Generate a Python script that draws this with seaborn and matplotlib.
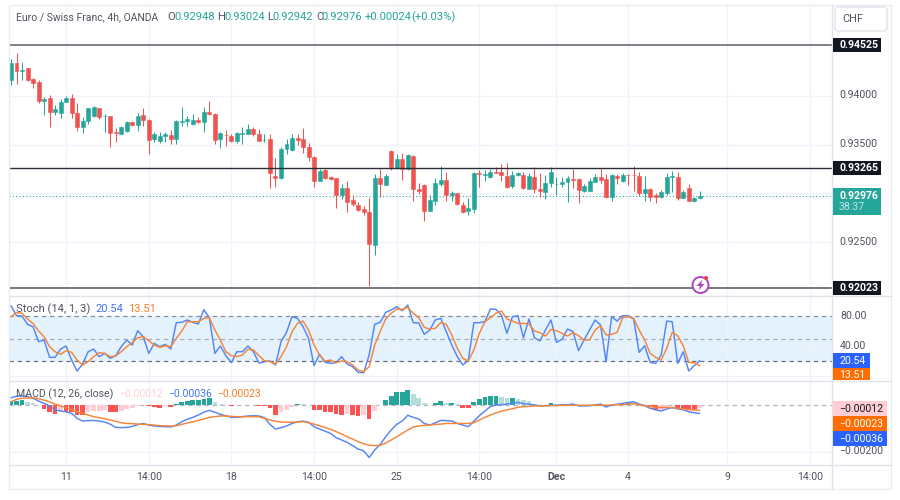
import numpy as np
import pandas as pd
import seaborn as sns
import matplotlib.pyplot as plt
from matplotlib.patches import Rectangle, FancyBboxPatch, Circle, Polygon

# candles, in 1e-5 of a franc
opens = [94166,94337,94258,94286,94173,94145,93950,93977,93840,93830,
         93939,93977,93826,93679,93741,93799,93874,93795,93792,93627,
         93614,93641,93730,93699,93802,93758,93555,93541,93590,93603,
         93562,93734,93744,93717,93754,93734,93837,93819,93555,93600,
         93593,93541,93610,93614,93658,93610,93545,93559,93178,93160,
         93456,93445,93569,93558,93473,93377,93130,93240,93171,93154,
         92982,93054,92931,92876,92838,92811,92471,93154,93085,93438,
         93263,93349,93246,93387,93044,93089,92821,92924,93095,93137,
         92979,93000,92883,92814,92842,93209,93192,93164,93219,93216,
         93181,93075,93185,93188,93047,93171,93044,93013,93102,93092,
         93095,93113,93150,93143,93027,93027,93116,93167,93147,92965,
         93177,93126,93193,93191,93181,93003,93044,92982,92958,92999,
         93168,93171,92955,93054,92920,92948]
highs = [94382,94440,94351,94290,94190,94166,93987,94011,93909,93967,
         94005,94018,93926,93782,93881,93898,93881,93816,93795,93675,
         93692,93744,93747,93823,93874,93761,93627,93634,93634,93651,
         93754,93891,93795,93813,93789,93885,93946,93823,93631,93648,
         93607,93631,93686,93710,93686,93665,93607,93610,93360,93476,
         93558,93607,93607,93668,93514,93384,93246,93246,93178,93154,
         93092,93126,92979,92910,92869,92948,93195,93246,93195,93445,
         93404,93411,93401,93390,93102,93095,92979,93154,93281,93219,
         93027,93000,92907,92955,93222,93240,93240,93250,93274,93298,
         93308,93233,93222,93219,93205,93267,93205,93188,93267,93164,
         93164,93178,93250,93154,93095,93153,93195,93249,93198,93195,
         93198,93205,93198,93280,93222,93177,93057,93006,93033,93205,
         93232,93222,93033,93095,92961,93027]
lows = [94114,94121,94166,94160,94087,93933,93806,93686,93806,93771,
        93939,93771,93644,93624,93713,93789,93768,93627,93480,93531,
        93607,93634,93692,93644,93696,93404,93524,93521,93531,93507,
        93507,93692,93692,93706,93720,93634,93806,93507,93470,93487,
        93531,93514,93507,93610,93593,93535,93528,93054,93068,93147,
        93401,93438,93497,93411,93336,93068,93126,93150,93137,92852,
        92938,92804,92869,92821,92776,92049,92365,92965,93082,93240,
        93246,93137,93240,92921,92993,92718,92814,92876,93078,92921,
        92921,92879,92800,92776,92797,93068,93126,93157,93212,93126,
        93054,93054,93181,93047,93041,93006,92965,92941,93068,92979,
        93068,92907,93051,92896,93016,93023,93112,93102,92948,92924,
        93095,93119,93085,93027,92972,92924,92924,92903,92955,92982,
        93016,92931,92948,92920,92913,92944]
closes = [94337,94258,94265,94166,94131,93950,93970,93840,93864,93943,
          93981,93823,93679,93747,93874,93885,93782,93799,93624,93620,
          93682,93730,93699,93799,93751,93552,93614,93593,93610,93562,
          93741,93747,93764,93754,93734,93837,93813,93552,93620,93596,
          93541,93620,93617,93658,93607,93541,93552,93209,93157,93456,
          93504,93565,93548,93473,93377,93130,93233,93161,93147,92982,
          93051,92914,92886,92828,92804,92481,93154,93095,93181,93267,
          93349,93246,93390,93041,93020,92814,92931,93102,93137,92979,
          93000,92886,92807,92845,93205,93195,93198,93219,93212,93188,
          93061,93188,93209,93051,93178,93041,93020,93106,93216,93099,
          93116,93154,93140,93030,93075,93126,93171,93136,92965,93188,
          93153,93188,93186,93184,93003,93044,92961,92958,93009,93171,
          93174,92948,93016,92924,92955,92976]

# stochastic
stoch_k = [93.8,80.4,80.0,68.9,65.8,45.8,48.0,24.9,24.9,36.0,40.0,21.3,6.7,16.0,32.4,36.0,25.8,30.2,23.6,27.1,
           39.1,48.0,41.3,60.4,52.4,30.2,43.6,39.1,42.2,36.0,71.1,71.6,74.7,71.6,69.3,88.4,77.8,30.2,40.0,27.1,
           17.8,32.4,32.4,40.0,32.4,17.3,19.1,20.0,14.7,45.8,58.2,79.1,76.9,65.8,50.2,13.8,28.9,18.2,16.9,17.8,
           25.8,16.0,12.4,4.9,4.4,28.0,68.9,71.6,84.9,88.0,92.4,87.1,94.7,71.1,70.7,55.6,61.3,74.7,76.9,59.1,
           41.3,25.8,14.7,21.3,71.1,71.1,72.4,89.3,88.9,81.3,56.9,79.1,80.4,51.1,76.0,51.1,46.7,61.3,74.7,44.9,
           48.9,62.7,59.1,33.8,48.0,61.3,74.7,68.0,19.1,79.1,73.3,80.4,80.4,76.0,31.6,40.4,18.2,16.9,28.0,73.3,
           72.4,16.9,32.4,6.7,13.8,20.54]
stoch_d = [79.1,84.4,83.6,76.0,70.2,60.0,52.4,39.1,32.4,28.9,33.8,31.6,21.3,14.7,19.1,25.8,31.1,30.2,25.8,26.7,
           32.4,39.1,44.4,51.1,52.4,47.1,41.3,38.2,40.4,39.1,50.2,60.0,72.4,72.4,72.4,76.9,77.8,61.3,48.0,32.4,
           27.1,25.8,28.0,35.6,34.7,27.1,20.4,19.1,16.0,25.8,39.1,59.1,70.2,73.3,61.3,41.3,28.0,20.0,21.3,17.8,
           20.0,19.1,14.7,8.0,5.8,12.4,41.3,59.1,76.0,83.6,89.3,88.9,91.6,83.6,77.8,64.9,62.7,63.6,71.1,68.9,
           54.7,36.9,23.6,20.0,34.7,56.9,72.4,77.8,83.6,86.7,76.0,73.3,70.2,70.2,69.3,60.0,57.8,53.3,62.2,60.4,
           56.9,53.3,57.8,53.8,48.0,48.0,61.3,67.1,54.7,55.6,58.2,77.8,79.1,76.9,61.3,48.0,30.2,24.9,21.3,36.9,
           58.2,53.8,40.4,18.2,17.8,13.51]

# macd, in 1e-5
macd_line = [31,37,40,36,29,17,7,-4,-21,-26,-29,-36,-57,-69,-67,-66,-69,-73,-82,-96,
             -97,-96,-92,-84,-79,-86,-90,-92,-93,-94,-86,-72,-61,-53,-43,-31,-23,-31,-40,-46,
             -53,-53,-50,-47,-46,-47,-54,-83,-103,-97,-90,-79,-72,-69,-74,-93,-103,-112,-122,-140,
             -150,-160,-174,-189,-196,-225,-193,-169,-136,-107,-83,-69,-44,-53,-60,-79,-86,-76,-66,-67,
             -69,-79,-86,-93,-69,-46,-26,-7,0,1,4,7,11,6,3,0,-4,-3,-1,-1,
             0,1,4,-4,-4,-3,0,4,-9,0,3,7,11,14,4,-3,-14,-21,-26,-17,
             -11,-17,-20,-29,-33,-36]
signal_line = [14,24,29,30,31,27,21,13,4,-4,-11,-20,-29,-36,-43,-50,-54,-59,-64,-70,
               -76,-79,-80,-82,-83,-84,-86,-89,-89,-90,-89,-83,-77,-72,-66,-60,-53,-50,-47,-47,
               -49,-50,-50,-50,-50,-51,-57,-64,-70,-73,-74,-74,-73,-71,-76,-82,-89,-96,-104,-114,
               -124,-136,-146,-157,-166,-172,-174,-173,-163,-150,-136,-122,-107,-94,-90,-87,-86,-83,-82,-79,
               -79,-79,-79,-79,-76,-64,-53,-43,-34,-27,-21,-16,-10,-7,-6,-4,-4,-4,-3,-3,
               -1,-1,-1,-1,-1,-1,-1,0,-1,0,1,1,3,6,1,-4,-7,-10,-11,-11,
               -11,-14,-17,-20,-21,-23]
macd_hist = [16,17,20,11,7,-2,-19,-31,-39,-26,-29,-31,-43,-43,-29,-26,-24,-21,-29,-31,
             -24,-19,-14,-4,1,-6,-7,-11,-3,-7,4,11,17,20,21,24,31,11,4,1,
             -6,1,-1,1,1,-4,-4,-11,-43,-31,-21,-9,4,3,0,-20,-23,-29,-29,-40,
             -43,-40,-43,-47,-43,-61,-24,1,20,40,57,57,64,46,31,10,1,9,16,9,
             9,3,-13,-13,11,24,34,39,39,36,29,29,26,20,17,6,-3,1,7,3,
             3,1,1,-1,-3,-3,1,-3,-3,1,3,6,9,7,1,-6,-10,-21,-20,-10,
             -1,-11,-17,-17,-20,-13]

hline_levels = [0.94525, 0.93265, 0.92023]
price_ticks = [0.94, 0.935, 0.93, 0.925]
tick_pos = [10, 25, 40, 55, 70, 85, 99, 112, 130, 145]
tick_text = ['11', '14:00', '18', '14:00', '25', '14:00', 'Dec', '4', '9', '14:00']

GREEN = '#26A69A'
RED = '#EF5350'
BLUE = '#5585F5'
ORANGE = '#F5853A'
GRID = '#F0F3FA'
FRAME = '#E0E3EB'
TXT = '#50535E'

sns.set_theme(style='white')
plt.rcParams['font.family'] = ['Roboto', 'DejaVu Sans']

df = pd.DataFrame({'o': opens, 'h': highs, 'l': lows, 'c': closes}) / 1e5
df['i'] = np.arange(len(df))
df['up'] = df['c'] >= df['o']
df['base'] = df[['o', 'c']].min(axis=1)
df['size'] = (df['c'] - df['o']).abs()

fig = plt.figure(figsize=(9, 5), dpi=100)
X0, X1 = 8.5, 832.0


def pane(top, bottom):
    return fig.add_axes([X0 / 900, 1 - bottom / 500, (X1 - X0) / 900, (bottom - top) / 500])


XLIM = ((X0 - 11) / 5.51, (X1 - 11) / 5.51)
ax = pane(4, 296)
ax_st = pane(296, 380)
ax_m = pane(380, 465)

# price pane
for up, col in [(True, GREEN), (False, RED)]:
    sub = df[df['up'] == up]
    ax.vlines(sub['i'], sub['l'], sub['h'], color=col, lw=0.75, zorder=3)
    sns.barplot(data=sub, x='i', y='size', bottom=sub['base'].values, native_scale=True, color=col,
                saturation=1, width=0.72, errorbar=None, linewidth=0.4, edgecolor=col, ax=ax, zorder=4)
ax.set_ylim(0.91943, 0.94948)
for p in price_ticks:
    ax.axhline(p, color=GRID, lw=1, zorder=0)
ax.axhline(hline_levels[0], color='#5C5F69', lw=1.1, zorder=5)
ax.axhline(hline_levels[1], color='#2A2E39', lw=1.0, zorder=5)
ax.axhline(hline_levels[2], color='#6A6D77', lw=1.3, zorder=5)
ax.axhline(closes[-1] / 1e5, color=GREEN, lw=0.8, ls=(0, (1, 2)), zorder=2)

# stochastic pane
ax_st.axhspan(20, 80, color='#E3F2FD', lw=0, zorder=0)
for v in [80, 40, 0]:
    ax_st.axhline(v, color=GRID, lw=1, zorder=1)
ax_st.axhline(80, color='#8A8D96', lw=0.9, ls=(0, (3.5, 3)), zorder=2)
ax_st.axhline(50, color='#A9ACB5', lw=0.9, ls=(0, (3.5, 3)), zorder=2)
ax_st.axhline(20, color='#6E717B', lw=0.9, ls=(0, (3.5, 3)), zorder=2)
sns.lineplot(x=df['i'], y=stoch_k, color=BLUE, lw=1.05, estimator=None, errorbar=None, ax=ax_st, zorder=3)
sns.lineplot(x=df['i'], y=stoch_d, color=ORANGE, lw=1.05, estimator=None, errorbar=None, ax=ax_st, zorder=4)
ax_st.set_ylim(-5.3, 106.7)

# macd pane
hist_vals = np.array(macd_hist) / 1e5
prev = np.r_[hist_vals[0], hist_vals[:-1]]
hist_col = np.where(hist_vals >= 0,
                    np.where(hist_vals >= prev, 'up_strong', 'up_weak'),
                    np.where(hist_vals <= prev, 'down_strong', 'down_weak'))
hist_pal = {'up_strong': GREEN, 'up_weak': '#B2DFDB', 'down_strong': '#FF5252', 'down_weak': '#FFCDD2'}
sns.barplot(x=df['i'], y=hist_vals, hue=hist_col, palette=hist_pal, dodge=False, native_scale=True,
            saturation=1, width=0.85, errorbar=None, legend=False, linewidth=0, ax=ax_m, zorder=2)
ax_m.axhline(0, color='#B4B6BE', lw=0.9, ls=(0, (3.5, 3)), zorder=1)
ax_m.axhline(-0.002, color=GRID, lw=1, zorder=0)
sns.lineplot(x=df['i'], y=np.array(macd_line) / 1e5, color=BLUE, lw=1.05, estimator=None, errorbar=None,
             ax=ax_m, zorder=3)
sns.lineplot(x=df['i'], y=np.array(signal_line) / 1e5, color=ORANGE, lw=1.05, estimator=None, errorbar=None,
             ax=ax_m, zorder=4)
ax_m.set_ylim(-0.00257, 0.00107)

for a in [ax, ax_st, ax_m]:
    a.set_xlim(*XLIM)
    a.set_xticks([])
    a.set_yticks([])
    a.set_xlabel('')
    a.set_ylabel('')
    for v in tick_pos:
        a.axvline(v, color=GRID, lw=1, zorder=0)
    for s in a.spines.values():
        s.set_visible(False)

# overlay in figure pixels for frame, labels and boxes
ov = fig.add_axes([0, 0, 1, 1], facecolor='none', zorder=10)
ov.set_xlim(0, 900)
ov.set_ylim(500, 0)
ov.axis('off')

ov.add_patch(Rectangle((8.5, 4.5), 882, 484.5, fill=False, ec='#E9EBF1', lw=1))
ov.plot([832, 832], [4.5, 489], color=FRAME, lw=1)
ov.plot([8.5, 891], [296, 296], color=FRAME, lw=1)
ov.plot([8.5, 891], [380.5, 380.5], color=FRAME, lw=1)
ov.plot([8.5, 891], [465, 465], color=FRAME, lw=1)


def txt(x, y, s, color=TXT, size=8.0, ha='left', **kw):
    ov.text(x, y, s, color=color, fontsize=size, ha=ha, va='center', **kw)


def box(x0, x1, y0, y1, col):
    ov.add_patch(Rectangle((x0, y0), x1 - x0, y1 - y0, fc=col, ec='none', zorder=3))


# header
txt(16, 17, 'Euro / Swiss Franc, 4h, OANDA', size=7.5)
for x, vx, head, val in [(167, 174, 'O', '0.92948'), (217, 224, 'H', '0.93024'),
                         (267, 272, 'L', '0.92942'), (316, 321.5, 'C', '0.92976')]:
    txt(x, 17, head, size=8.1)
    txt(vx, 17, val, color=GREEN, size=8.1)
txt(365, 17, '+0.00024', color=GREEN, size=8.1)
txt(411, 17, '(+0.03%)', color=GREEN, size=8.1)

# currency button
ov.add_patch(FancyBboxPatch((835, 7), 52, 24, boxstyle='round,pad=0,rounding_size=3', fc='white', ec=FRAME, lw=1))
txt(853, 19, 'CHF', size=8.0, ha='center')

# price axis
for p, y in [('0.94000', 95), ('0.93500', 144), ('0.92500', 242)]:
    txt(839, y, p, size=7.6)
for p, y in [('0.94525', 45), ('0.93265', 168), ('0.92023', 288)]:
    box(832.5, 881, y - 7, y + 7, '#131722')
    txt(839, y, p, color='white', size=7.6, zorder=4, fontweight='bold')
box(832.5, 881, 188, 215, GREEN)
txt(839, 196, '0.92976', color='white', size=7.6, zorder=4, fontweight='bold')
txt(839, 207, '38:37', color='#BFE6E1', size=7.6, zorder=4)

# stochastic labels
txt(16, 309, 'Stoch (14, 1, 3)', size=8.0)
txt(95, 309, '20.54', color='#3F74F2', size=8.0)
txt(128, 309, '13.51', color='#F57C25', size=8.0)
txt(840, 316, '80.00', size=7.6)
txt(840, 346, '40.00', size=7.6)
box(832.5, 870, 353, 368, '#2962FF')
txt(839, 361, '20.54', color='white', size=7.6, zorder=4)
box(832.5, 870, 368, 380, '#FF6D00')
txt(839, 375, '13.51', color='white', size=7.6, zorder=4)

# macd labels
txt(16, 394, 'MACD (12, 26, close)', size=7.6)
txt(119, 394, '\u22120.00012', color='#FFCDD2', size=7.5)
txt(168, 394, '\u22120.00036', color='#3F74F2', size=7.5)
txt(217, 394, '\u22120.00023', color='#F57C25', size=7.5)
box(833, 887, 401, 416, '#FFCDD2')
txt(839, 409, '\u22120.00012', color='#131722', size=7.6, zorder=4)
box(833, 887, 416, 431, '#FF6D00')
txt(839, 424, '\u22120.00023', color='white', size=7.6, zorder=4)
box(833, 887, 431, 446, '#2962FF')
txt(839, 439, '\u22120.00036', color='white', size=7.6, zorder=4)
txt(839, 451, '\u22120.00200', size=7.6)

# time axis
for t, s in zip(tick_pos, tick_text):
    x = 11 + 5.51 * t
    txt(x, 477.5, s, ha='center', size=7.6, fontweight='bold' if s == 'Dec' else 'normal')

# lightning badge
ov.add_patch(Circle((700.5, 285), 8, fc='white', ec='#AB47BC', lw=1.4, zorder=6))
ov.add_patch(Polygon([(702.5, 279.5), (696.5, 286), (700, 286), (698.5, 290.5), (704.5, 284), (701, 284)],
                     fc='#AB47BC', ec='none', zorder=7))
ov.add_patch(Circle((706, 278), 2, fc='#F23645', ec='none', zorder=8))

plt.savefig('out.png', dpi=100)
